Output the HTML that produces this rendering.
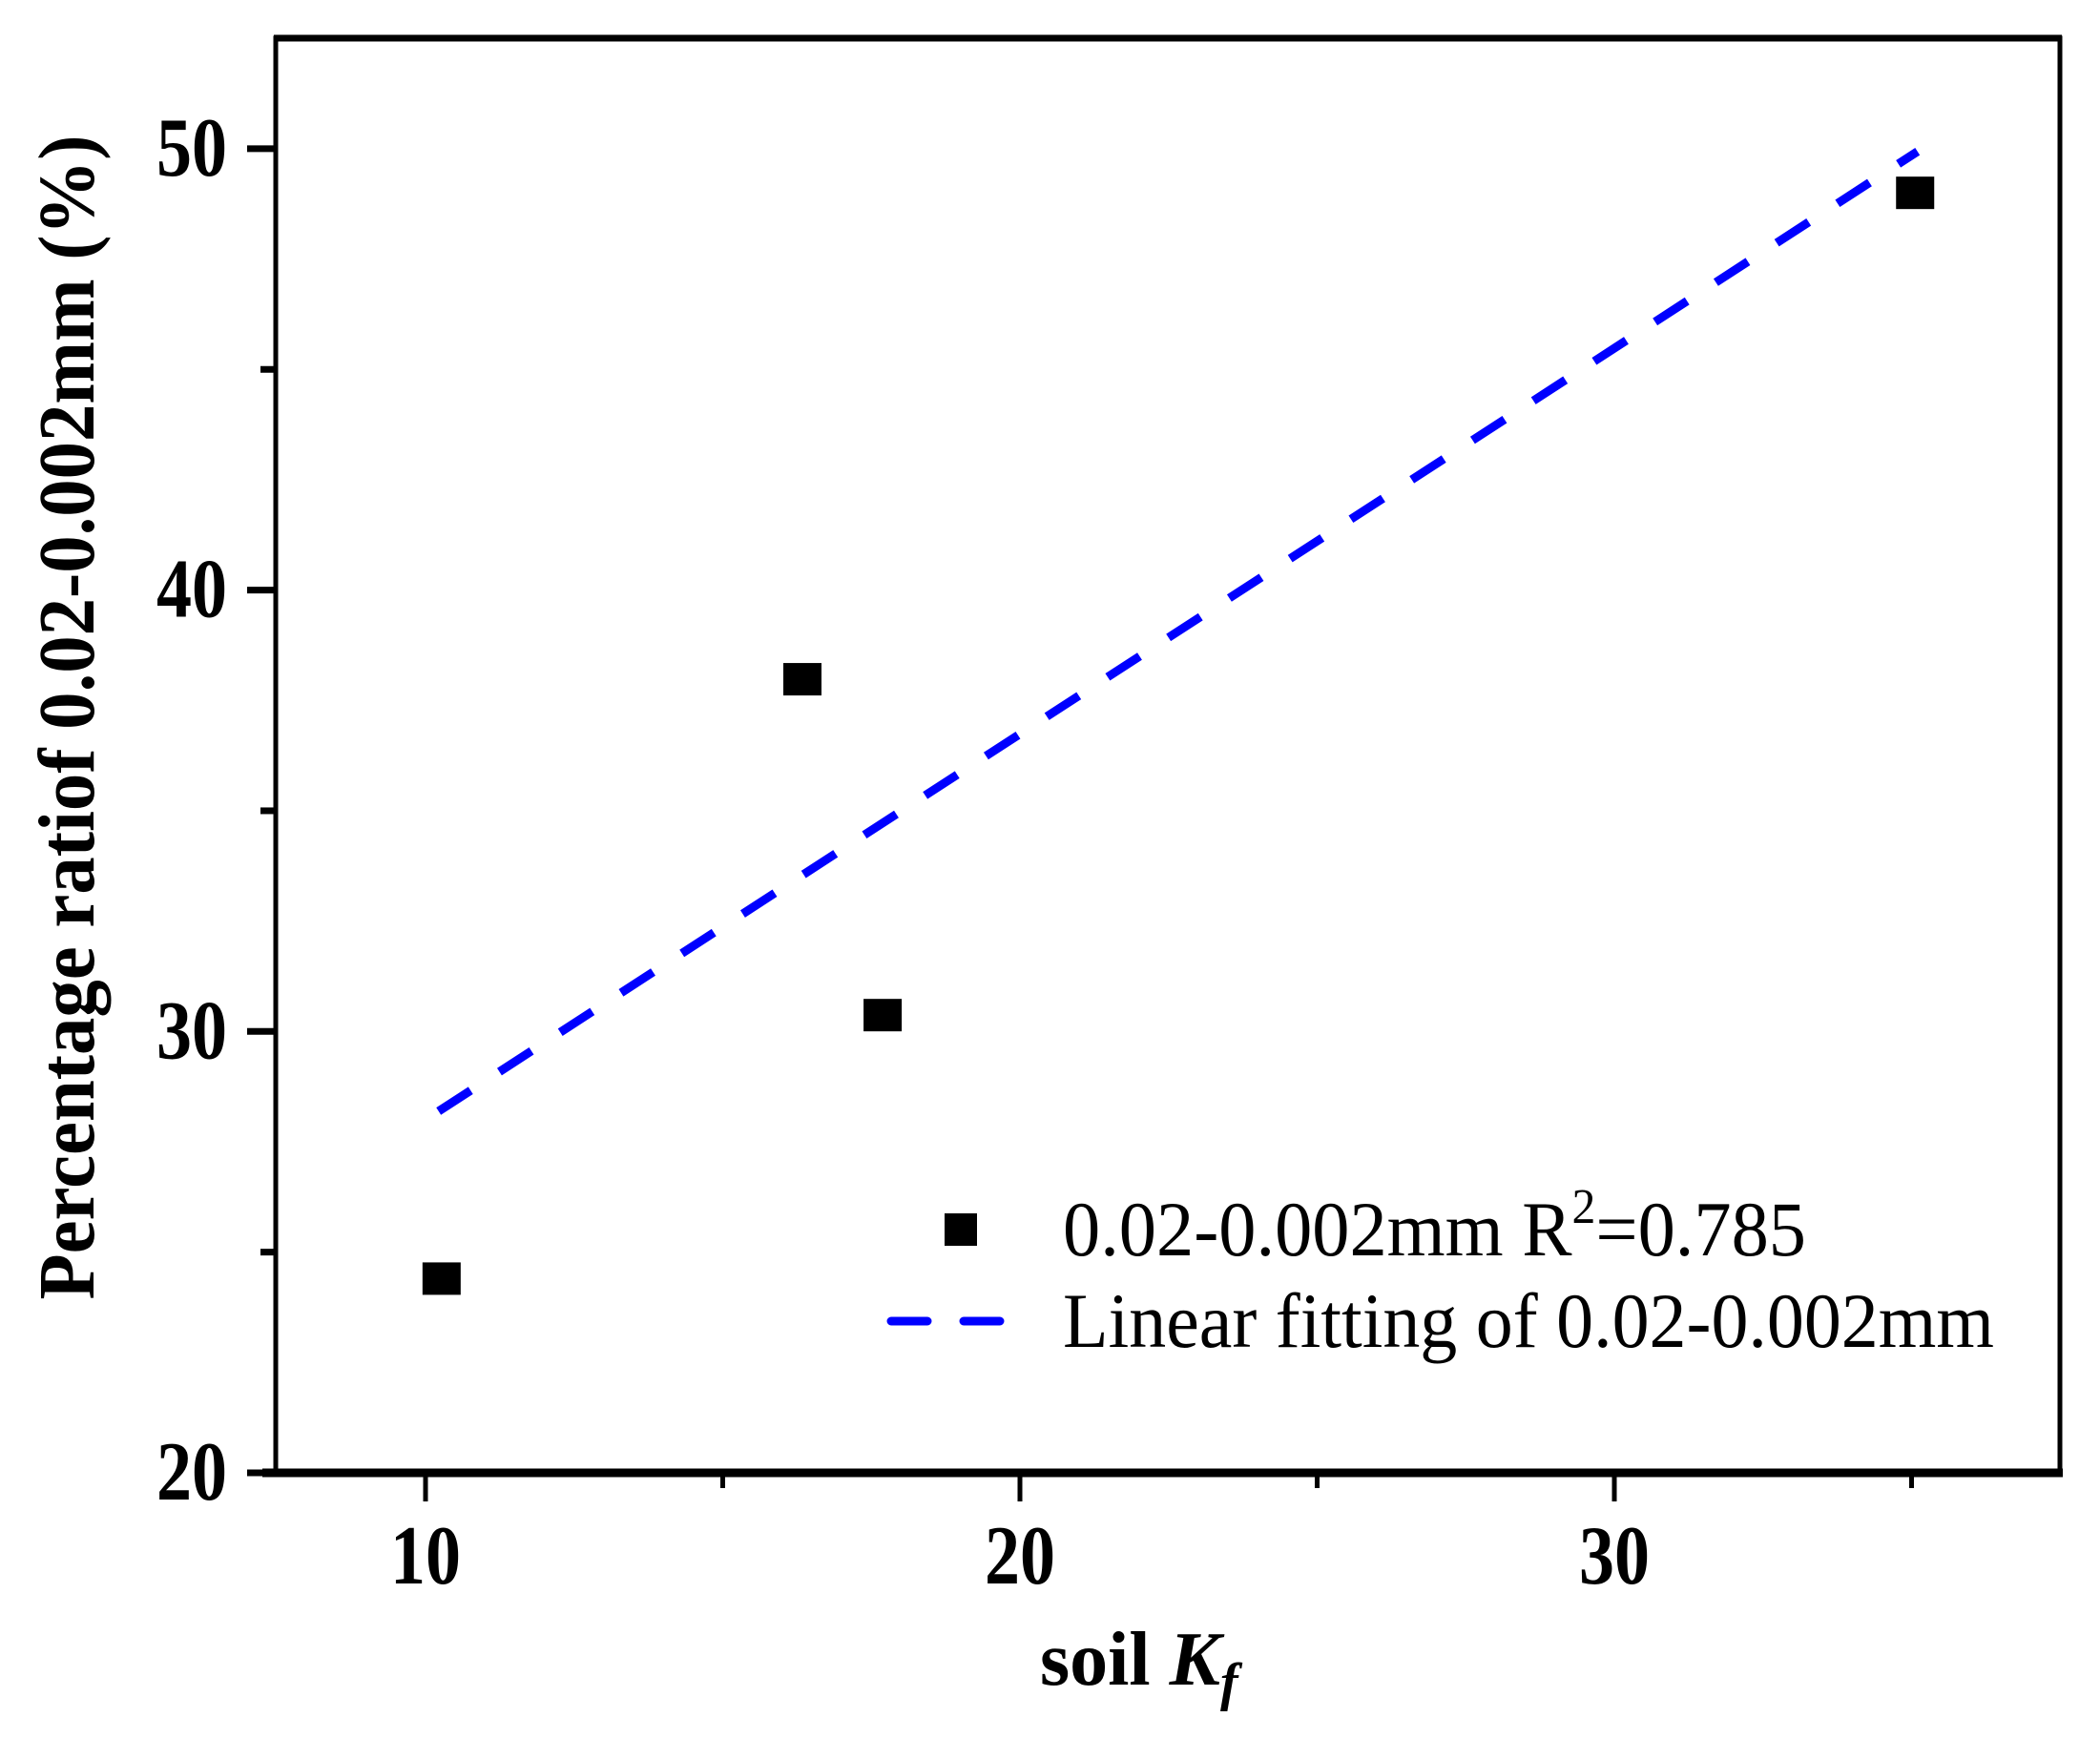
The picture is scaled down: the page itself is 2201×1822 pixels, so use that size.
<!DOCTYPE html>
<html><head><meta charset="utf-8"><style>body{margin:0;background:#fff}svg{display:block}text,tspan{font-family:"Liberation Serif","Times New Roman",serif}</style></head>
<body>
<svg id="chart" width="2201" height="1822" viewBox="0 0 2201 1822" xmlns="http://www.w3.org/2000/svg">
<rect width="2201" height="1822" fill="#fff"/>
<g id="plot"></g>
</svg>
<script>
const xValues = [10.27, 16.34, 17.69, 35.06];
const yValues = [24.4, 37.98, 30.37, 49.0];
const fitRange = [10.22, 35.1];
const fitCoef = [19.26, 0.874];
const xTicks = [10, 20, 30];
const xMinor = [15, 25, 35];
const yTicks = [20, 30, 40, 50];
const yMinor = [25, 35, 45];

const L=289,R=2159,T=40,B=1544;
function sx(v){return 446+(v-10)*62.3;}
function sy(v){return 1544-(v-20)*46.27;}
const NS='http://www.w3.org/2000/svg';
const g=document.getElementById('plot');
function mk(tag,attrs,parent){const e=document.createElementNS(NS,tag);for(const k in attrs)e.setAttribute(k,attrs[k]);(parent||g).appendChild(e);return e;}

const fx1=fitRange[0],fx2=fitRange[1];
let fl=mk('line',{x1:sx(fx1),y1:sy(fitCoef[0]+fitCoef[1]*fx1),x2:sx(fx2),y2:sy(fitCoef[0]+fitCoef[1]*fx2),stroke:'#0000ff','stroke-width':9,'stroke-dasharray':'40 36'});



for(let i=0;i<xValues.length;i++){
  const p=mk('rect',{x:sx(xValues[i])-20,y:sy(yValues[i])-17,width:40,height:34,fill:'#000'});
  
  
}

let fr=mk('rect',{x:L,y:T,width:R-L,height:B-T,fill:'none',stroke:'#000','stroke-width':5});


mk('line',{x1:L-2,y1:T,x2:R+2,y2:T,stroke:'#000','stroke-width':7});
let xa=mk('line',{x1:L-14,y1:B,x2:R+3,y2:B,stroke:'#000','stroke-width':9});



xTicks.forEach(v=>{
  const t=mk('line',{x1:sx(v),y1:B,x2:sx(v),y2:B+30,stroke:'#000','stroke-width':5});
  
  
  const lb=mk('text',{x:sx(v),y:1660,'font-size':88,'font-weight':'bold','text-anchor':'middle',textLength:74,lengthAdjust:'spacingAndGlyphs'});
  lb.textContent=v;
  
  
});
xMinor.forEach(v=>{
  const t=mk('line',{x1:sx(v),y1:B,x2:sx(v),y2:B+16,stroke:'#000','stroke-width':5});
  
  
});
yTicks.forEach(v=>{
  const t=mk('line',{x1:L,y1:sy(v),x2:L-30,y2:sy(v),stroke:'#000','stroke-width':7});
  
  
  const lb=mk('text',{x:238,y:sy(v)+28,'font-size':88,'font-weight':'bold','text-anchor':'end',textLength:74,lengthAdjust:'spacingAndGlyphs'});
  lb.textContent=v;
  
  
});
yMinor.forEach(v=>{
  const t=mk('line',{x1:L,y1:sy(v),x2:L-16,y2:sy(v),stroke:'#000','stroke-width':7});
  
  
});

const xt=mk('text',{x:1090,y:1766,'font-size':80,'font-weight':'bold'});
xt.innerHTML='soil <tspan font-style="italic">K</tspan><tspan font-style="italic" font-size="56" dy="16">f</tspan>';


const yt=mk('text',{x:0,y:0,'font-size':84,'font-weight':'bold','text-anchor':'middle',transform:'translate(98,752) rotate(-90)',textLength:1221,lengthAdjust:'spacingAndGlyphs'});
yt.textContent='Percentage ratiof 0.02-0.002mm (%)';



const lm=mk('rect',{x:990,y:1272,width:34,height:34,fill:'#000'});


const ll=mk('line',{x1:934,y1:1385,x2:1048,y2:1385,stroke:'#0000ff','stroke-width':9,'stroke-dasharray':'38 38','stroke-linecap':'round'});


const l1=mk('text',{x:1114,y:1316,'font-size':82,textLength:779,lengthAdjust:'spacingAndGlyphs'});
l1.innerHTML='0.02-0.002mm R<tspan font-size="52" dy="-34">2</tspan><tspan dy="34">=0.785</tspan>';


const l2=mk('text',{x:1114,y:1412,'font-size':82,textLength:976,lengthAdjust:'spacingAndGlyphs'});
l2.textContent='Linear fitting of 0.02-0.002mm';


</script>
</body></html>
